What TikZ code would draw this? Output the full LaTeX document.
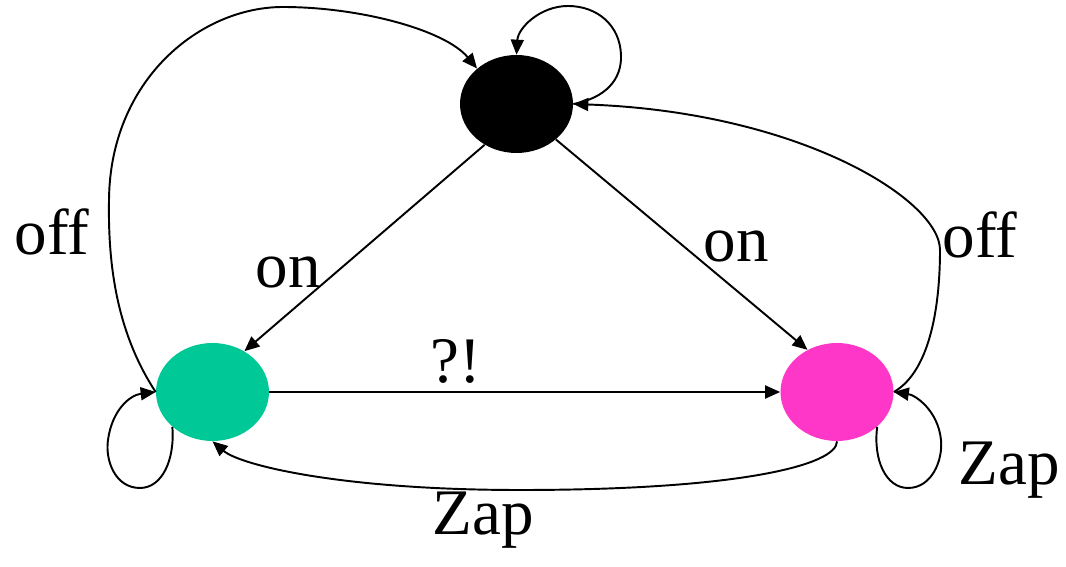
\documentclass[tikz,border=0pt]{standalone}
\usepackage{fontspec}
\setmainfont{Liberation Serif}
\usetikzlibrary{arrows.meta,shapes.geometric}
\definecolor{stgreen}{RGB}{0,200,150}
\definecolor{stpink}{RGB}{255,55,200}
\tikzset{
  state/.style={ellipse, minimum width=2.26cm, minimum height=1.96cm, inner sep=0pt, draw=none},
  conn/.style={line width=1.1pt, -{Triangle[length=0.3cm,width=0.26cm]}},
  lbl/.style={font=\fontsize{37}{40}\selectfont, anchor=base, inner sep=0pt},
}
\begin{document}
\begin{tikzpicture}[x=0.02cm, y=-0.02cm]
\useasboundingbox (0,0) rectangle (1066,567);
\node[state, fill=black] (blk) at (516.5,104) {};
\node[state, fill=stgreen] (grn) at (212.5,392) {};
\node[state, fill=stpink] (pnk) at (837,392) {};

% black self loop
\draw[conn] (blk.east) .. controls (605,98) and (622,80) .. (621,55)
  .. controls (620,25) and (597,6) .. (568,6)
  .. controls (540,6) and (518,28) .. (blk.north);
% on edges
\draw[conn] (blk.-128) -- (grn.52);
\draw[conn] (blk.-42) -- (pnk.125);
% ?!
\draw[conn] (grn.east) -- (pnk.west);
% Zap bottom
\draw[conn] (pnk.south) .. controls (837,465) and (740,490) .. (520,490)
  .. controls (340,490) and (240,465) .. (grn.south);
% green self loop
\draw[conn] (grn.221) .. controls (175,460) and (162,488) .. (140,488)
  .. controls (115,488) and (105,460) .. (108,440)
  .. controls (112,410) and (130,395) .. (grn.west);
% pink self loop
\draw[conn] (pnk.-41) .. controls (873,460) and (886,488) .. (908,488)
  .. controls (932,488) and (943,460) .. (941,440)
  .. controls (938,410) and (915,395) .. (pnk.east);
% left off
\draw[conn] (grn.west) .. controls (115,330) and (108,260) .. (109,200)
  .. controls (110,80) and (200,7) .. (283,7)
  .. controls (360,7) and (445,30) .. (blk.138);
% right off
\draw[conn] (pnk.east) .. controls (932,370) and (940,300) .. (940,250)
  .. controls (940,200) and (800,112) .. (blk.east);

\node[lbl] (l1) at (52,255) {off};
\node[lbl] (l2) at (288,288) {on};
\node[lbl] (l3) at (736,262) {on};
\node[lbl] (l4) at (980,258) {off};
\node[lbl] (l5) at (456,383) {?!};
\node[lbl] (l6) at (483,535) {Zap};
\node[lbl] (l7) at (1009,485) {Zap};
\end{tikzpicture}
\end{document}
